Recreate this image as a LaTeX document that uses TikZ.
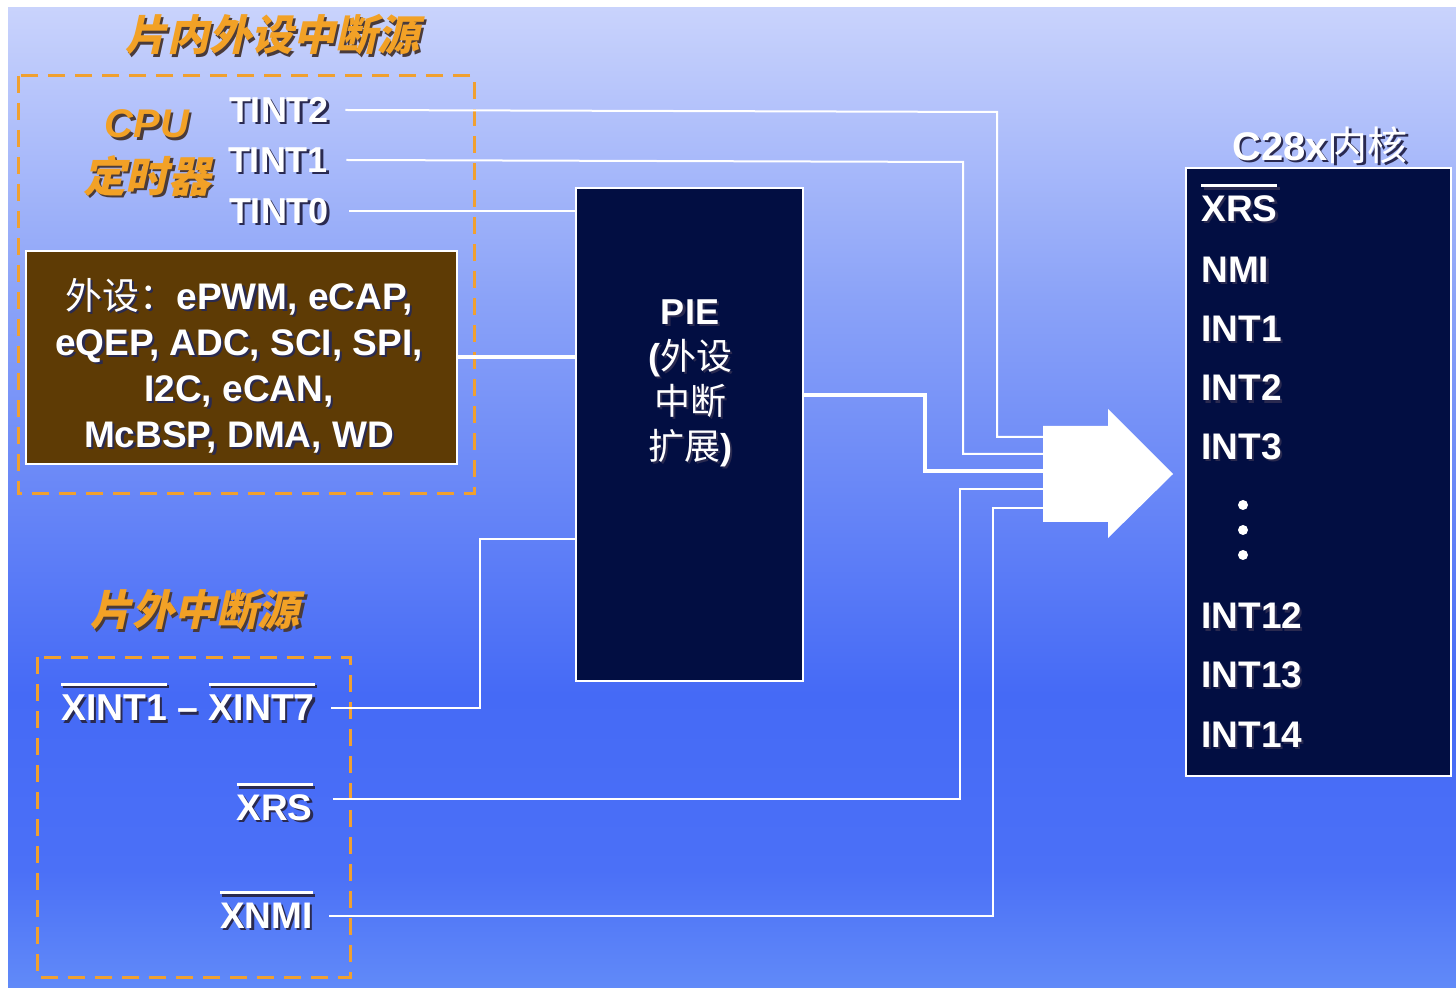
\documentclass[tikz,border=0pt]{standalone}
\usepackage{fontspec}
\setmainfont{Liberation Sans}
\newfontfamily\cjk{Noto Sans CJK SC}
\newfontfamily\cjkit[FakeSlant=0.22]{Noto Sans CJK SC}
\definecolor{bgtop}{HTML}{C9D3FC}
\definecolor{bgup}{HTML}{8AA2F8}
\definecolor{bgdark}{HTML}{456AF6}
\definecolor{bglow}{HTML}{4B70F7}
\definecolor{bgbot}{HTML}{618AF8}
\definecolor{navy}{HTML}{020E42}
\definecolor{brownbox}{HTML}{5E3B05}
\definecolor{dashorange}{HTML}{F0A030}
\definecolor{titleorange}{HTML}{F2A126}
\definecolor{shadowc}{HTML}{2A2A50}
\definecolor{oshadow}{HTML}{4A3B3A}
\pgfdeclareverticalshading{bgshade}{100bp}{color(0bp)=(bgbot); color(25bp)=(bgbot); color(31bp)=(bglow); color(40bp)=(bgdark); color(60bp)=(bgup); color(75bp)=(bgtop); color(100bp)=(bgtop)}
\newlength\olw
\newcommand\ovl[1]{\settowidth{\olw}{#1}\smash{\rlap{\rule[0.93em]{\olw}{0.08em}}}#1}
\newcommand\shw[1]{\smash{\rlap{\kern0.06em\raisebox{-0.06em}{\color{shadowc}#1}}}#1}
\newcommand\sho[1]{\smash{\rlap{\kern0.06em\raisebox{-0.06em}{\color{oshadow}#1}}}#1}
\tikzset{
  lbl/.style={inner sep=0pt, text=white, font=\fontsize{18}{22}\selectfont\bfseries},
  corelbl/.style={lbl, anchor=west, font=\fontsize{18.5}{22}\selectfont\bfseries},
  otitle/.style={inner sep=0pt, text=titleorange, font=\fontsize{21}{25}\selectfont\cjkit\bfseries},
  dashbox/.style={draw=dashorange, line width=1.5pt, dash pattern=on 8.5pt off 5pt},
  darkbox/.style={draw=white, line width=1pt, fill=navy, inner sep=0pt},
  sig/.style={draw=white, line width=1pt},
  bus/.style={draw=white, line width=2.3pt},
}
\begin{document}
\begin{tikzpicture}[x=0.5pt,y=-0.5pt]
\useasboundingbox (0,0) rectangle (1456,988);
\fill[white] (0,0) rectangle (1456,988);
\shade[shading=bgshade] (8,8) rectangle (1456,988);

% on-chip peripheral interrupt sources
\node[otitle] (t1) at (272,35) {\sho{片内外设中断源}};
\draw[dashbox] (18,76) rectangle (474,494);
\node[inner sep=0pt, text=titleorange, font=\fontsize{20}{24}\selectfont\bfseries\itshape] (cpu) at (147,124) {\sho{CPU}};
\node[otitle, font=\fontsize{21.3}{25}\selectfont\cjkit\bfseries] (timer) at (147,176) {\sho{定时器}};
\node[lbl] (tint2) at (279,110) {\shw{TINT2}};
\node[lbl] (tint1) at (278,160) {\shw{TINT1}};
\node[lbl] (tint0) at (279,211) {\shw{TINT0}};

\node[draw=white, line width=1pt, fill=brownbox, minimum width=215.5pt, minimum height=106.5pt, inner sep=0pt] (periph) at (241.5,357.5) {};
\node[lbl, align=center, font=\fontsize{18.5}{23}\selectfont\bfseries] (periphtxt) at (239,366) {\shw{{\cjk\mdseries 外设：}ePWM, eCAP,}\\ \shw{eQEP, ADC, SCI, SPI,}\\ \shw{I2C, eCAN,}\\ \shw{McBSP, DMA, WD}};

% PIE
\node[darkbox, minimum width=113.5pt, minimum height=246.5pt] (pie) at (689.5,434.5) {};
\node[lbl, align=center, font=\fontsize{18}{22.5}\selectfont\bfseries] (pietxt) at (690,383) {\shw{PIE}\\ \shw{({\cjk\mdseries 外设}}\\ \shw{{\cjk\mdseries 中断}}\\ \shw{{\cjk\mdseries 扩展})}};

% off-chip interrupt sources
\node[otitle] (t2) at (195,610) {\sho{片外中断源}};
\draw[dashbox] (37,657) rectangle (350,977);
\node[lbl, font=\fontsize{18.7}{22}\selectfont\bfseries] (xint) at (188,708) {\shw{\ovl{XINT1} -- \ovl{XINT7}}};
\node[lbl, font=\fontsize{18.5}{22}\selectfont\bfseries, anchor=east] (xrs) at (313,808) {\shw{\ovl{XRS}}};
\node[lbl, font=\fontsize{18.5}{22}\selectfont\bfseries, anchor=east] (xnmi) at (313,916) {\shw{\ovl{XNMI}}};

% C28x core
\node[inner sep=0pt, text=white, font=\fontsize{20}{24}\selectfont\bfseries] (coretitle) at (1320,145) {\shw{C28x{\cjk\mdseries 内核}}};
\node[darkbox, minimum width=132.5pt, minimum height=304pt] (core) at (1318.5,472) {};
\node[corelbl] (cxrs) at (1201,209) {\shw{\ovl{XRS}}};
\node[corelbl] (cnmi) at (1201,270) {\shw{NMI}};
\node[corelbl] (cint1) at (1201,329) {\shw{INT1}};
\node[corelbl] (cint2) at (1201,388) {\shw{INT2}};
\node[corelbl] (cint3) at (1201,447) {\shw{INT3}};
\fill[white] (1243,505) circle (5) (1243,530) circle (5) (1243,555) circle (5);
\node[corelbl] (cint12) at (1201,616) {\shw{INT12}};
\node[corelbl] (cint13) at (1201,675) {\shw{INT13}};
\node[corelbl] (cint14) at (1201,735) {\shw{INT14}};

% big arrow into the core
\fill[white] (1043,426) -- (1108,426) -- (1108,409) -- (1173,474) -- (1108,538) -- (1108,522) -- (1043,522) -- cycle;
\coordinate (arrin) at (1043,474);

% connectors
\draw[sig] ([xshift=8pt]tint2.east) -- (997,112) -- (997,437) -- (arrin |- 0,437);
\draw[sig] ([xshift=9pt]tint1.east) -- (963,162) -- (963,454) -- (arrin |- 0,454);
\draw[sig] ([xshift=10pt]tint0.east) -- (pie.west |- tint0.east);
\draw[bus] (periph.east |- 0,357) -- (pie.west |- 0,357);
\draw[bus] (pie.east |- 0,395) -- (925,395) -- (925,471) -- (arrin |- 0,471);
\draw[sig] ([xshift=8pt]xint.east) -- (480,708) -- (480,539) -- (pie.west |- 0,539);
\draw[sig] ([xshift=10pt]xrs.east |- 0,799) -- (960,799) -- (960,489) -- (arrin |- 0,489);
\draw[sig] ([xshift=8pt]xnmi.east) -- (993,916) -- (993,508) -- (arrin |- 0,508);
\end{tikzpicture}
\end{document}
